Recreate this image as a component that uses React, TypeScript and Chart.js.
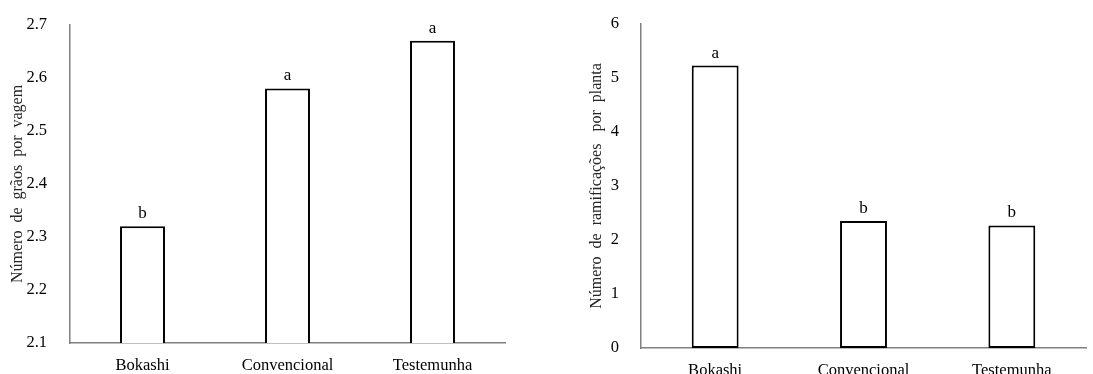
import React, { useEffect, useRef } from "react";
import { Chart, registerables } from "chart.js";

Chart.register(...registerables);

const categories = ["Bokashi", "Convencional", "Testemunha"];

const graosValues = [2.32, 2.58, 2.67];
const graosLetters = ["b", "a", "a"];
const graosTitle = "Número  de  grãos  por  vagem";

const ramValues = [5.23, 2.35, 2.27];
const ramLetters = ["a", "b", "b"];
const ramTitle = "Número  de  ramificações   por  planta";

const FONT = "'Liberation Serif', 'Times New Roman', serif";

const lettersPlugin = {
  id: "letters",
  afterDatasetsDraw(chart: any) {
    const letters: string[] = chart.options.plugins.letters?.letters || [];
    const meta = chart.getDatasetMeta(0);
    const ctx = chart.ctx;
    ctx.save();
    ctx.font = `17px ${FONT}`;
    ctx.fillStyle = "#000";
    ctx.textAlign = "center";
    ctx.textBaseline = "bottom";
    meta.data.forEach((bar: any, i: number) => {
      ctx.fillText(letters[i] ?? "", bar.x, bar.y - 4);
    });
    ctx.restore();
  },
};

type Cfg = {
  values: number[];
  letters: string[];
  title: string;
  min: number;
  max: number;
  step: number;
  decimals: number;
  yWidth: number;
  titlePad: number;
  tickPad: number;
  padTop: number;
  padRight: number;
  xHeight: number;
  barPct: number;
};

function BarChart({ cfg, left, width }: { cfg: Cfg; left: number; width: number }) {
  const ref = useRef<HTMLCanvasElement | null>(null);
  useEffect(() => {
    if (!ref.current) return;
    const chart = new Chart(ref.current, {
      type: "bar",
      data: {
        labels: categories,
        datasets: [
          {
            data: cfg.values,
            backgroundColor: "#ffffff",
            borderColor: "#000000",
            borderWidth: 2,
            borderSkipped: false,
            barPercentage: cfg.barPct,
            categoryPercentage: 1,
          },
        ],
      },
      options: {
        animation: false,
        responsive: false,
        maintainAspectRatio: false,
        layout: { padding: { top: cfg.padTop, right: cfg.padRight, left: 0, bottom: 0 } },
        plugins: {
          legend: { display: false },
          tooltip: { enabled: false },
          letters: { letters: cfg.letters },
        } as any,
        scales: {
          x: {
            grid: { display: false },
            border: { display: true, color: "#808080", width: 1.5 },
            ticks: { color: "#000", font: { family: FONT, size: 16.5 }, padding: 5, maxRotation: 0 },
            afterFit(scale: any) {
              scale.height = cfg.xHeight;
            },
          },
          y: {
            min: cfg.min,
            max: cfg.max,
            grid: { display: false },
            border: { display: true, color: "#808080", width: 1.5 },
            ticks: {
              stepSize: cfg.step,
              color: "#000",
              font: { family: FONT, size: 16.5 },
              padding: cfg.tickPad,
              callback: (v: any) => Number(v).toFixed(cfg.decimals),
            },
            title: {
              display: true,
              text: cfg.title,
              color: "#262626",
              font: { family: FONT, size: 16 },
              padding: { top: cfg.titlePad, bottom: 0 },
            },
            afterFit(scale: any) {
              scale.width = cfg.yWidth;
            },
          },
        },
      },
      plugins: [lettersPlugin],
    });
    return () => chart.destroy();
  }, []);
  return (
    <div style={{ position: "absolute", left, top: 0, width, height: 374 }}>
      <canvas ref={ref} width={width} height={374} style={{ width, height: 374, display: "block" }} />
    </div>
  );
}

const leftCfg: Cfg = {
  values: graosValues,
  letters: graosLetters,
  title: graosTitle,
  min: 2.1,
  max: 2.7,
  step: 0.1,
  decimals: 1,
  yWidth: 70,
  titlePad: 8,
  tickPad: 15,
  padTop: 20,
  padRight: 40,
  xHeight: 31,
  barPct: 0.31,
};

const rightCfg: Cfg = {
  values: ramValues,
  letters: ramLetters,
  title: ramTitle,
  min: 0,
  max: 6,
  step: 1,
  decimals: 0,
  yWidth: 91,
  titlePad: 37,
  tickPad: 14,
  padTop: 24,
  padRight: 7,
  xHeight: 26,
  barPct: 0.316,
};

export default function App() {
  return (
    <div style={{ position: "fixed", left: 0, top: 0, width: 1093, height: 374, background: "#fff", overflow: "hidden" }}>
      <BarChart cfg={leftCfg} left={0} width={545} />
      <BarChart cfg={rightCfg} left={550} width={543} />
    </div>
  );
}
